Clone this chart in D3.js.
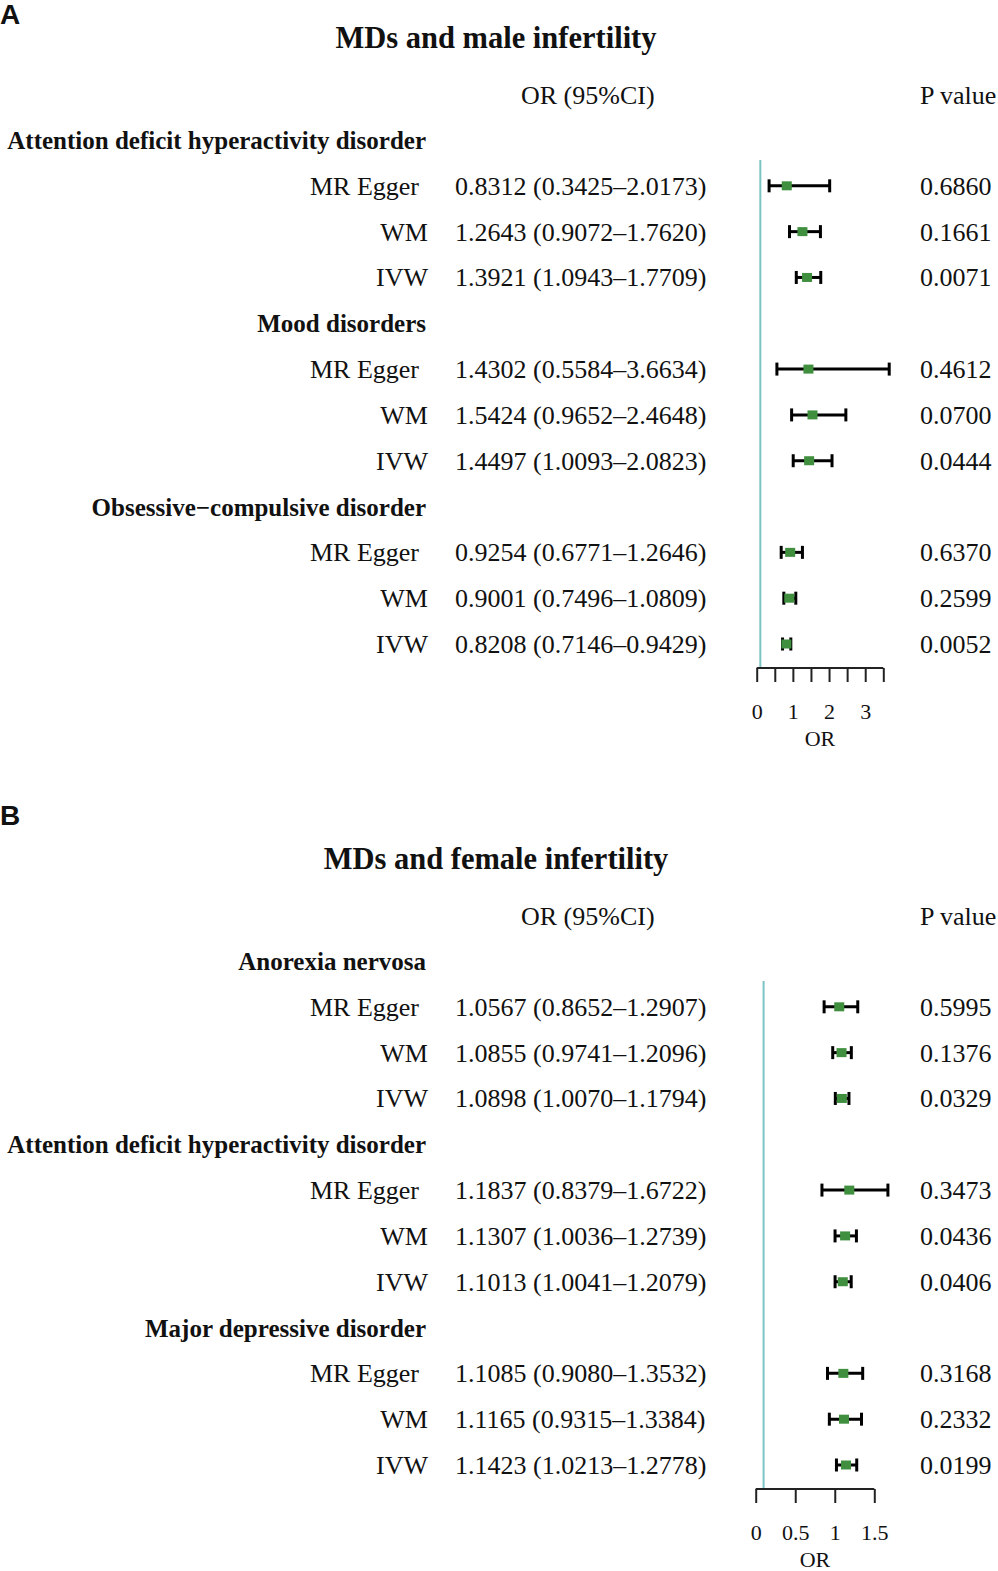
<!DOCTYPE html>
<html>
<head>
<meta charset="utf-8">
<script src="https://cdn.jsdelivr.net/npm/d3@7/dist/d3.min.js"></script>
<style>
  html, body { margin: 0; padding: 0; background: #fff; }
  svg { display: block; }
  text { font-family: "Liberation Serif", "Times New Roman", serif; fill: #111; }
</style>
</head>
<body>
<svg id="chart" width="998" height="1571"></svg>
<script>
// ---------- Data ----------
const methods = ["MR Egger", "WM", "IVW"];

const titleA = "MDs and male infertility";
const groupsA = ["Attention deficit hyperactivity disorder", "Mood disorders", "Obsessive\u2212compulsive disorder"];
const orA  = [0.8312, 1.2643, 1.3921, 1.4302, 1.5424, 1.4497, 0.9254, 0.9001, 0.8208];
const loA  = [0.3425, 0.9072, 1.0943, 0.5584, 0.9652, 1.0093, 0.6771, 0.7496, 0.7146];
const hiA  = [2.0173, 1.7620, 1.7709, 3.6634, 2.4648, 2.0823, 1.2646, 1.0809, 0.9429];
const pA   = ["0.6860", "0.1661", "0.0071", "0.4612", "0.0700", "0.0444", "0.6370", "0.2599", "0.0052"];
const ticksA = [0, 0.5, 1, 1.5, 2, 2.5, 3, 3.5];
const tickLabelsA = ["0", "", "1", "", "2", "", "3", ""];

const titleB = "MDs and female infertility";
const groupsB = ["Anorexia nervosa", "Attention deficit hyperactivity disorder", "Major depressive disorder"];
const orB  = [1.0567, 1.0855, 1.0898, 1.1837, 1.1307, 1.1013, 1.1085, 1.1165, 1.1423];
const loB  = [0.8652, 0.9741, 1.0070, 0.8379, 1.0036, 1.0041, 0.9080, 0.9315, 1.0213];
const hiB  = [1.2907, 1.2096, 1.1794, 1.6722, 1.2739, 1.2079, 1.3532, 1.3384, 1.2778];
const pB   = ["0.5995", "0.1376", "0.0329", "0.3473", "0.0436", "0.0406", "0.3168", "0.2332", "0.0199"];
const ticksB = [0, 0.5, 1, 1.5];
const tickLabelsB = ["0", "0.5", "1", "1.5"];

const refValue = 0.1;

// ---------- Drawing ----------
const svg = d3.select("#chart");
const fmt = d3.format(".4f");

function drawPanel(opt) {
  // Panel letter
  svg.append("text").attr("x", 0).attr("y", opt.letterY)
    .style("font-family", "'Liberation Sans', Arial, sans-serif")
    .style("font-weight", "bold").style("font-size", "28px")
    .text(opt.letter);

  const g = svg.append("g").attr("transform", `translate(0,${opt.offsetY})`);

  // Title
  g.append("text").attr("x", 496).attr("y", 48)
    .attr("text-anchor", "middle")
    .style("font-weight", "bold").style("font-size", "30.5px")
    .text(opt.title);

  // Headers
  g.append("text").attr("x", 521).attr("y", 104).style("font-size", "26px").text("OR (95%CI)");
  g.append("text").attr("x", 920).attr("y", 104).style("font-size", "26px").text("P value");

  // Build rows
  const rows = [];
  opt.groups.forEach((grp, gi) => {
    rows.push({ type: "group", label: grp });
    methods.forEach((m, mi) => {
      const k = gi * methods.length + mi;
      rows.push({ type: "item", label: m, or: opt.or[k], lo: opt.lo[k], hi: opt.hi[k], p: opt.p[k] });
    });
  });

  const y = d3.scalePoint().domain(d3.range(rows.length)).range([140, 644]);
  const x = d3.scaleLinear().domain([opt.ticks[0], opt.ticks[opt.ticks.length - 1]]).range(opt.xRange);

  // Group headings
  g.selectAll("text.grp").data(rows.map((r, i) => ({ ...r, i })).filter(r => r.type === "group"))
    .join("text").attr("class", "grp")
    .attr("x", 426).attr("y", d => y(d.i) + 9)
    .attr("text-anchor", "end")
    .style("font-weight", "bold").style("font-size", "25px")
    .text(d => d.label);

  const items = rows.map((r, i) => ({ ...r, i })).filter(r => r.type === "item");

  g.selectAll("text.meth").data(items).join("text").attr("class", "meth")
    .attr("x", d => d.label === "MR Egger" ? 419 : 428)
    .attr("y", d => y(d.i) + 9)
    .attr("text-anchor", "end").style("font-size", "26px")
    .text(d => d.label);

  g.selectAll("text.orv").data(items).join("text").attr("class", "orv")
    .attr("x", 455).attr("y", d => y(d.i) + 9)
    .style("font-size", "26px")
    .text(d => `${fmt(d.or)} (${fmt(d.lo)}\u2013${fmt(d.hi)})`);

  g.selectAll("text.pv").data(items).join("text").attr("class", "pv")
    .attr("x", 920).attr("y", d => y(d.i) + 9)
    .style("font-size", "26px")
    .text(d => d.p);

  // Reference line
  const axisY = 668;
  g.append("line")
    .attr("x1", x(refValue)).attr("x2", x(refValue))
    .attr("y1", y(0) + 20).attr("y2", axisY)
    .attr("stroke", "#7cc4c4").attr("stroke-width", 2);

  // CI bars
  const capH = 6.5;
  const ci = g.selectAll("g.ci").data(items).join("g").attr("class", "ci");
  ci.append("line")
    .attr("x1", d => x(d.lo)).attr("x2", d => x(d.hi))
    .attr("y1", d => y(d.i)).attr("y2", d => y(d.i))
    .attr("stroke", "#000").attr("stroke-width", 3);
  ci.append("line")
    .attr("x1", d => x(d.lo)).attr("x2", d => x(d.lo))
    .attr("y1", d => y(d.i) - capH).attr("y2", d => y(d.i) + capH)
    .attr("stroke", "#000").attr("stroke-width", 3);
  ci.append("line")
    .attr("x1", d => x(d.hi)).attr("x2", d => x(d.hi))
    .attr("y1", d => y(d.i) - capH).attr("y2", d => y(d.i) + capH)
    .attr("stroke", "#000").attr("stroke-width", 3);
  ci.append("rect")
    .attr("x", d => x(d.or) - 5).attr("y", d => y(d.i) - 4.5)
    .attr("width", 10).attr("height", 9)
    .attr("fill", "#3f8f3f");

  // Axis
  const axis = d3.axisBottom(x)
    .tickValues(opt.ticks)
    .tickFormat((d, i) => opt.tickLabels[i])
    .tickSize(14).tickPadding(21);
  const ax = g.append("g").attr("transform", `translate(0,${axisY})`).call(axis);
  ax.select(".domain").attr("stroke", "#222").attr("stroke-width", 2)
    .attr("d", `M${x.range()[0]},0H${x.range()[1]}`);
  ax.selectAll(".tick line").attr("stroke", "#222").attr("stroke-width", 2);
  ax.selectAll(".tick text")
    .style("font-family", "'Liberation Serif', 'Times New Roman', serif")
    .style("font-size", "22px").attr("fill", "#111");

  g.append("text").attr("x", d3.mean(x.range())).attr("y", 746)
    .attr("text-anchor", "middle").style("font-size", "22px").text("OR");
}

drawPanel({ letter: "A", letterY: 24, offsetY: 0, title: titleA, groups: groupsA,
  or: orA, lo: loA, hi: hiA, p: pA, ticks: ticksA, tickLabels: tickLabelsA,
  xRange: [756.7, 883.3] });

drawPanel({ letter: "B", letterY: 825, offsetY: 821, title: titleB, groups: groupsB,
  or: orB, lo: loB, hi: hiB, p: pB, ticks: ticksB, tickLabels: tickLabelsB,
  xRange: [755.7, 874.3] });
</script>
</body>
</html>
